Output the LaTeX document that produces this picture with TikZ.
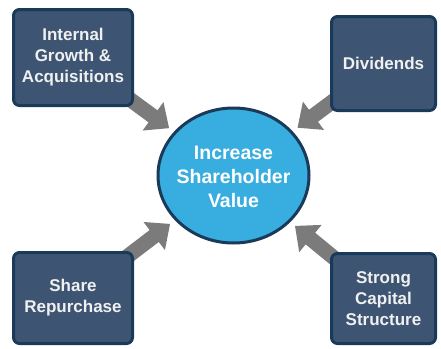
\documentclass[tikz,border=0pt]{standalone}
\usepackage{fontspec}
\setmainfont{Liberation Sans}
\usetikzlibrary{positioning, arrows.meta, shapes.geometric, backgrounds}

\definecolor{boxfill}{HTML}{3D5572}
\definecolor{boxline}{HTML}{1B3A5A}
\definecolor{valuefill}{HTML}{38ADDF}
\definecolor{arrowgray}{HTML}{7B7B7B}

\begin{document}
\begin{tikzpicture}[x=1pt, y=-1pt,
    factor/.style={draw=boxline, fill=boxfill, line width=3pt,
        rounded corners=6pt, text=white!94!black, align=center,
        font=\fontsize{17}{21}\selectfont\bfseries},
    value/.style={ellipse, draw=boxline, fill=valuefill, line width=3pt,
        minimum width=151pt, minimum height=135pt, inner sep=0pt},
    valuetext/.style={text=white, align=center,
        font=\fontsize{19.5}{24}\selectfont\bfseries},
    bigarrow/.style={arrowgray, line width=15pt, shorten >=6pt,
        -{Triangle[length=20pt, width=34pt]}}
]
    \useasboundingbox (0,0) rectangle (441,348);

    \node [value] (value) at (233.5,175.5) {};
    \node [valuetext] (valuetext) at (233.5,177) {
        Increase\\
        Shareholder\\
        Value
    };

    \node [factor,
        minimum width=119pt,
        minimum height=96pt
    ] (growth) at (73,57.5) {
        Internal\\
        Growth \&\\
        Acquisitions
    };

    \node [factor,
        minimum width=104pt,
        minimum height=94pt
    ] (dividends) at (383.5,63.5) {Dividends};

    \node [factor,
        minimum width=119pt,
        minimum height=91pt
    ] (repurchase) at (73,298) {
        Share\\
        Repurchase
    };

    \node [factor,
        minimum width=104pt,
        minimum height=90pt
    ] (capital) at (383.5,298.5) {
        Strong\\
        Capital\\
        Structure
    };

    % arrows into the value circle
    \begin{scope}[on background layer]
        \draw [bigarrow] (growth.center) -- (value);
        \draw [bigarrow] (dividends.center) -- (value);
        \draw [bigarrow] (repurchase.center) -- (value);
        \draw [bigarrow] (capital.center) -- (value);
    \end{scope}

\end{tikzpicture}
\end{document}
